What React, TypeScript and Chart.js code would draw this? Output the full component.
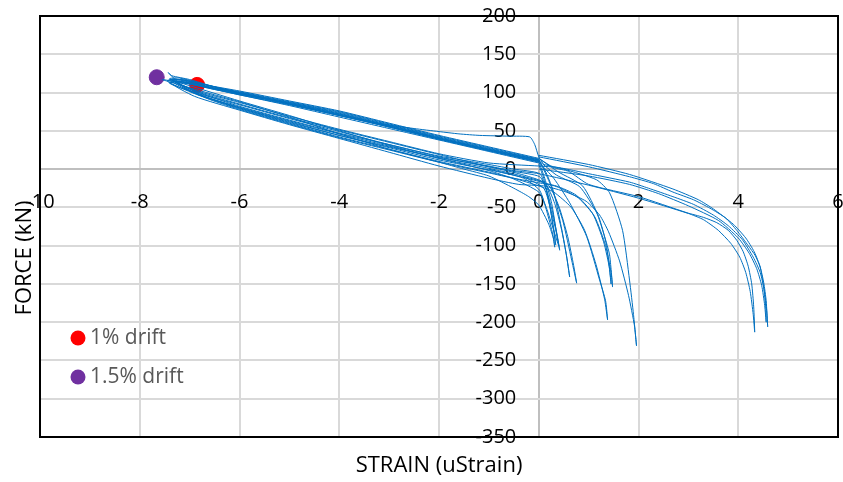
import React, { useEffect, useRef } from 'react';
import { Chart, registerables } from 'chart.js';

Chart.register(...registerables);

type P = [number, number];

// Axis ranges / ticks
const X_MIN = -10;
const X_MAX = 6;
const X_STEP = 2;
const Y_MIN = -350;
const Y_MAX = 200;
const Y_STEP = 50;
// the vertical value axis sits at x = 0; its labels are pushed left by this many strain units
const Y_LABEL_SHIFT = 0.45;

const X_TITLE = 'STRAIN (uStrain)';
const Y_TITLE = 'FORCE (kN)';
const LEGEND_LABELS = ['1% drift', '1.5% drift'];

// Hysteresis loops (strain, force)
const loop1: P[] = [
  [0, 6], [0.1, -12], [0.2, -40], [0.28, -72], [0.34, -99], [0.31, -82], [0.24, -55], [0.14, -25], [0.02, -6],
  [-0.5, 0], [-1, 6], [-2, 17], [-3, 32], [-4, 47], [-5, 64], [-6, 82], [-6.7, 97], [-7.25, 112],
  [-7.05, 112], [-6.4, 104], [-6, 98], [-5, 86], [-4, 72], [-3, 56], [-2, 40], [-1, 25], [-0.4, 16], [0, 10],
];
const loop2: P[] = [
  [0, 10], [0.12, -12], [0.26, -45], [0.36, -85], [0.42, -106], [0.38, -90], [0.29, -60], [0.16, -28], [0.02, -10],
  [-0.5, -3], [-1, 4], [-2, 15], [-3, 29], [-4, 44], [-5, 61], [-6, 80], [-6.7, 95], [-7.35, 117],
  [-7.1, 116], [-6.4, 106], [-6, 100], [-5, 87], [-4, 74], [-3, 58], [-2, 42], [-1, 27], [-0.4, 18], [0, 12],
];
const loop3: P[] = [
  [0, 12], [0.15, -5], [0.3, -30], [0.45, -75], [0.55, -110], [0.62, -141], [0.56, -115], [0.46, -80], [0.32, -45],
  [0.12, -18], [-0.4, -6], [-1, 3], [-2, 19], [-3, 35], [-4, 51], [-5, 67], [-6, 85], [-6.8, 100], [-7.4, 118],
  [-7.2, 119], [-6.5, 107], [-6, 101], [-5, 88], [-4, 75], [-3, 59], [-2, 43], [-1, 28], [0, 13],
];
const loop4: P[] = [
  [0, 13], [0.22, -18], [0.48, -67], [0.66, -119], [0.76, -149], [0.7, -126], [0.58, -88], [0.4, -48], [0.18, -20],
  [-0.4, -8], [-1, 1], [-2, 14], [-3, 30], [-4, 46], [-5, 63], [-6, 81], [-6.8, 97], [-7.3, 114],
  [-7.1, 114], [-6.4, 103], [-6, 97], [-5, 84], [-4, 70], [-3, 55], [-2, 39], [-1, 24], [0, 9],
];
const loop5: P[] = [
  [0, 9], [0.3, -12], [0.62, -44], [0.96, -88], [1.22, -145], [1.34, -172], [1.38, -197], [1.32, -170], [1.15, -125],
  [0.92, -80], [0.65, -50], [0.3, -30], [0, -22], [-0.5, -12], [-1, -4], [-2, 10], [-3, 26], [-4, 42], [-5, 60],
  [-6, 79], [-6.8, 96], [-7.4, 113], [-7.2, 115], [-6.5, 105], [-6, 99], [-5, 85], [-4, 71], [-3, 56], [-2, 40],
  [-1, 25], [0, 11],
];
const loop6: P[] = [
  [0, 11], [0.36, -8], [0.82, -23], [1.16, -57], [1.32, -88], [1.42, -112], [1.48, -154], [1.45, -135], [1.34, -100],
  [1.12, -62], [0.8, -38], [0.4, -24], [0, -16], [-0.5, -8], [-1, -1], [-2, 12], [-3, 28], [-4, 44], [-5, 62],
  [-6, 80], [-6.9, 99], [-7.4, 116], [-7.25, 117], [-6.5, 106], [-6, 100], [-5, 86], [-4, 72], [-3, 57], [-2, 41],
  [-1, 26], [0, 12],
];
const loop7: P[] = [
  [0, 14], [0.4, -4], [0.88, -22], [1.2, -62], [1.36, -100], [1.45, -150], [1.42, -130], [1.3, -95], [1.08, -58],
  [0.75, -34], [0.35, -22], [0, -18], [-0.5, -12], [-1, -5], [-2, 9], [-3, 25], [-4, 41], [-5, 59], [-6, 78],
  [-6.6, 91], [-7.1, 106], [-7.43, 126], [-7.36, 122], [-7, 117], [-6.27, 103], [-5.5, 92], [-5, 85], [-4, 70],
  [-3.25, 60], [-2.5, 53], [-2, 49], [-1.6, 46], [-1.18, 44], [-0.6, 43], [-0.18, 42], [-0.08, 32], [0, 16], [0.1, 6],
];
const loop8: P[] = [
  [0.1, 6], [0.5, 0], [1.16, -14], [1.42, -31], [1.68, -80], [1.82, -145], [1.9, -190], [1.96, -231], [1.92, -205],
  [1.8, -165], [1.62, -120], [1.4, -82], [1.22, -60], [0.95, -42], [0.55, -30], [0.1, -22], [-0.4, -20], [-1, -12],
  [-2, 4], [-3, 22], [-4, 40], [-5, 58], [-6, 77], [-6.9, 95], [-7.45, 115], [-7.3, 118], [-6.6, 109], [-6, 102],
  [-5, 89], [-4, 76], [-3, 60], [-2, 44], [-1, 29], [0, 14],
];
const loop9: P[] = [
  [0, 14], [0.3, 2], [0.6, -3], [1, -20], [2, -36], [2.97, -57], [3.3, -63], [3.57, -70], [3.8, -80], [3.97, -93],
  [4.1, -108], [4.2, -127], [4.27, -150], [4.31, -180], [4.33, -213], [4.3, -190], [4.24, -160], [4.15, -135],
  [4.03, -115], [3.85, -97], [3.6, -80], [3.3, -66], [3, -58], [2, -38], [1, -21], [0, -6], [-0.5, -2], [-1, 3],
  [-2, 16], [-3, 32], [-4, 49], [-5, 66], [-6, 84], [-6.9, 100], [-7.4, 112], [-7.2, 114], [-6.5, 104], [-6, 98],
  [-5, 85], [-4, 71], [-3, 55], [-2, 39], [-1, 24], [0, 10],
];
const loop10: P[] = [
  [0, 16], [1, 3], [1.82, -10], [2.3, -19], [2.69, -30], [3.1, -40], [3.43, -51], [3.75, -64], [3.97, -80],
  [4.2, -100], [4.34, -113], [4.44, -128], [4.51, -148], [4.56, -172], [4.59, -206], [4.57, -185], [4.52, -158],
  [4.44, -135], [4.3, -115], [4.08, -92], [3.8, -74], [3.5, -60], [3.1, -46], [2.69, -36], [2.2, -25], [1.82, -17],
  [1, -6], [0.4, 2], [0, 4], [-1, 8], [-2, 20], [-3, 36], [-4, 52], [-5, 69], [-6, 87], [-6.9, 103], [-7.35, 116],
  [-7.15, 117], [-6.4, 106], [-6, 100], [-5, 87], [-4, 73], [-3, 57], [-2, 41], [-1, 26], [0, 12],
];
const loop11: P[] = [
  [0, 18], [1, 6], [1.82, -7], [2.69, -26], [3.2, -40], [3.5, -52], [3.9, -72], [4.15, -90], [4.32, -108],
  [4.44, -128], [4.51, -155], [4.55, -180], [4.56, -200], [4.53, -178], [4.47, -152], [4.37, -130], [4.22, -110],
  [4, -90], [3.6, -67], [3, -48], [2.4, -32], [1.82, -20], [1, -9], [0, 0],
];
const loop12: P[] = [
  [0, 8], [-1, 23], [-2, 38], [-3, 53], [-4, 68], [-5, 83], [-6, 97], [-7, 111], [-7.55, 117], [-7.3, 112],
  [-6.5, 97], [-6, 88], [-5, 68], [-4, 46], [-3, 26], [-2, 9], [-1.5, 0], [-1, -9], [-0.5, -25], [-0.2, -36],
  [0, -47], [0.2, -72], [0.3, -92], [0.32, -102], [0.28, -85], [0.16, -55], [0.02, -28], [-0.3, -12], [-1, 0],
];
const loop13: P[] = [
  [0, 10], [-1, 25], [-2, 40], [-3, 55], [-4, 70], [-5, 85], [-6, 99], [-7, 112], [-7.4, 117], [-7.1, 111],
  [-6, 89], [-5, 70], [-4, 50], [-3, 31], [-2, 14], [-1, -2], [-0.5, -13], [0, -30], [0.15, -50], [0.3, -80],
  [0.4, -100], [0.36, -85], [0.25, -55], [0.1, -25], [-0.3, -10],
];

const loops: P[][] = [loop1, loop2, loop3, loop4, loop5, loop6, loop7, loop8, loop9, loop10, loop11, loop12, loop13];

// Marker points
const drift1: P[] = [[-6.85, 110]];
const drift15: P[] = [[-7.66, 120]];

const LINE_COLOR = '#0070C0';
const RED = '#FF0000';
const PURPLE = '#7030A0';
const GRID = '#D9D9D9';
const AXIS = '#BFBFBF';
const TICK_FONT = { family: '"Open Sans"', size: 20 };

const toXY = (arr: P[]) => arr.map(([x, y]) => ({ x, y }));

const noPadding = (scale: any) => {
  scale.paddingLeft = 0;
  scale.paddingRight = 0;
  scale.paddingTop = 0;
  scale.paddingBottom = 0;
};

const decorPlugin = {
  id: 'decor',
  beforeDatasetsDraw(chart: any) {
    const { ctx, chartArea: a } = chart;
    ctx.save();
    ctx.strokeStyle = '#000';
    ctx.lineWidth = 2;
    ctx.strokeRect(a.left, a.top, a.right - a.left, a.bottom - a.top);
    ctx.restore();
  },
  afterDraw(chart: any) {
    const { ctx, chartArea: a } = chart;
    ctx.save();
    ctx.fillStyle = '#000';
    ctx.font = '22px "Open Sans"';
    ctx.textAlign = 'center';
    ctx.textBaseline = 'middle';
    ctx.fillText(X_TITLE, (a.left + a.right) / 2, a.bottom + 29);
    ctx.save();
    ctx.translate(a.left - 15, a.top + 242);
    ctx.rotate(-Math.PI / 2);
    ctx.fillText(Y_TITLE, 0, 0);
    ctx.restore();

    // legend
    const colors = [RED, PURPLE];
    ctx.font = '21px "Open Sans"';
    ctx.textAlign = 'left';
    LEGEND_LABELS.forEach((label, i) => {
      const cx = a.left + 38;
      const cy = a.top + 322 + i * 39;
      ctx.beginPath();
      ctx.arc(cx, cy, 7.5, 0, Math.PI * 2);
      ctx.fillStyle = colors[i];
      ctx.fill();
      ctx.fillStyle = '#595959';
      ctx.fillText(label, cx + 12, cy);
    });
    ctx.restore();
  },
};

export default function App() {
  const ref = useRef<HTMLCanvasElement | null>(null);

  useEffect(() => {
    if (!ref.current) return;
    const datasets: any[] = loops.map((l, i) => ({
      label: 'loop' + (i + 1),
      data: toXY(l),
      showLine: true,
      borderColor: LINE_COLOR,
      backgroundColor: LINE_COLOR,
      borderWidth: 1,
      pointRadius: 0,
      tension: 0.2,
      fill: false,
    }));
    datasets.push({
      label: LEGEND_LABELS[0],
      data: toXY(drift1),
      showLine: false,
      pointRadius: 7.5,
      pointBackgroundColor: RED,
      pointBorderColor: RED,
    });
    datasets.push({
      label: LEGEND_LABELS[1],
      data: toXY(drift15),
      showLine: false,
      pointRadius: 7.5,
      pointBackgroundColor: PURPLE,
      pointBorderColor: PURPLE,
    });

    const chart = new Chart(ref.current, {
      type: 'scatter',
      data: { datasets },
      options: {
        animation: false,
        responsive: true,
        maintainAspectRatio: false,
        events: [],
        layout: { autoPadding: false, padding: { left: 40, top: 16, right: 5, bottom: 45 } },
        plugins: { legend: { display: false }, tooltip: { enabled: false }, title: { display: false } },
        scales: {
          x: {
            type: 'linear',
            min: X_MIN,
            max: X_MAX,
            position: { y: 0 } as any,
            afterFit: noPadding,
            ticks: { stepSize: X_STEP, color: '#000', font: TICK_FONT, padding: 21, maxRotation: 0, autoSkip: false },
            grid: {
              color: (c: any) => (c.tick && c.tick.value === 0 ? AXIS : GRID),
              lineWidth: 2,
              drawTicks: false,
            },
            border: { color: AXIS, width: 2 },
          },
          y: {
            type: 'linear',
            min: Y_MIN,
            max: Y_MAX,
            position: { x: -Y_LABEL_SHIFT } as any,
            afterFit: noPadding,
            ticks: { stepSize: Y_STEP, color: '#000', font: TICK_FONT, autoSkip: false },
            grid: { color: GRID, lineWidth: 2, drawTicks: false },
            border: { display: false },
          },
        },
      },
      plugins: [decorPlugin],
    });
    return () => chart.destroy();
  }, []);

  return (
    <div style={{ position: 'fixed', left: 0, top: 0, width: 843, height: 482, background: '#fff' }}>
      <canvas ref={ref} />
    </div>
  );
}
